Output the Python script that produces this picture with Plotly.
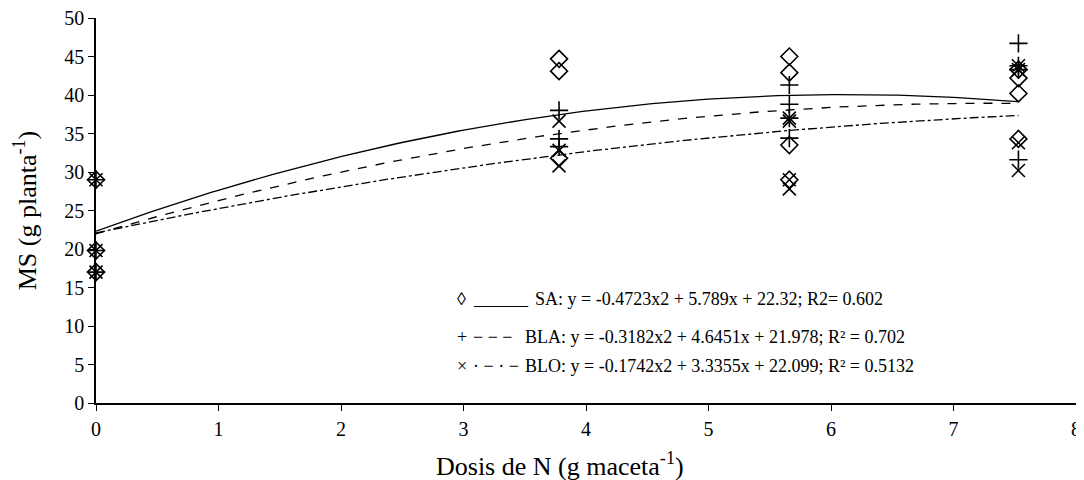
import numpy as np
import plotly.graph_objects as go

doses = [0, 3.78, 5.66, 7.53]

# observed points (per dose, replicate values)
sa_x = [0, 0, 0, 3.78, 3.78, 3.78, 5.66, 5.66, 5.66, 5.66, 7.53, 7.53, 7.53, 7.53]
sa_y = [29.0, 19.8, 17.0, 44.7, 43.1, 31.8, 45.0, 42.9, 33.5, 29.0, 43.3, 42.2, 40.2, 34.3]
bla_x = [0, 0, 0, 3.78, 3.78, 3.78, 5.66, 5.66, 5.66, 5.66, 7.53, 7.53, 7.53, 7.53]
bla_y = [29.0, 19.8, 17.0, 38.0, 34.3, 33.3, 41.3, 38.8, 37.0, 34.4, 46.7, 43.8, 43.3, 31.6]
blo_x = [0, 0, 0, 3.78, 3.78, 3.78, 5.66, 5.66, 5.66, 5.66, 7.53, 7.53, 7.53, 7.53]
blo_y = [29.0, 19.8, 17.0, 36.6, 32.8, 30.8, 37.0, 36.6, 29.0, 27.8, 43.8, 43.3, 33.8, 30.2]

# regression coefficients (a, b, c) for y = a x^2 + b x + c
sa_coef = [-0.4723, 5.789, 22.32]
bla_coef = [-0.3182, 4.6451, 21.978]
blo_coef = [-0.1742, 3.3355, 22.099]

legend_symbols = ["◊", "+", "×"]
legend_styles = ["______", "− − −", "· − · −"]
legend_texts = [
    "SA: y = -0.4723x2 + 5.789x + 22.32; R2= 0.602",
    "BLA: y = -0.3182x2 + 4.6451x + 21.978; R² = 0.702",
    "BLO: y = -0.1742x2 + 3.3355x + 22.099; R² = 0.5132",
]
x_title = "Dosis de N (g maceta<sup>-1</sup>)"
y_title = "MS (g planta<sup>-1</sup>)"

xs = np.linspace(0, 7.53, 200)

def curve(c):
    return c[0] * xs ** 2 + c[1] * xs + c[2]

fig = go.Figure()
for c, dash in [(sa_coef, "solid"), (bla_coef, "dash"), (blo_coef, "dashdot")]:
    fig.add_trace(go.Scatter(x=xs, y=curve(c), mode="lines",
                             line=dict(color="black", width=1.3, dash=dash),
                             showlegend=False, hoverinfo="skip"))

for xv, yv, sym in [(sa_x, sa_y, "diamond-open"), (bla_x, bla_y, "cross-thin-open"),
                    (blo_x, blo_y, "x-thin-open")]:
    fig.add_trace(go.Scatter(x=xv, y=yv, mode="markers", cliponaxis=False,
                             marker=dict(symbol=sym, size=13, color="black",
                                         line=dict(color="black", width=1.6)),
                             showlegend=False))

font = "Times New Roman"
rows_y = [13.5, 8.57, 4.8]
text_x = [3.567, 3.486, 3.486]
for sym, sty, t, yv, tx in zip(legend_symbols, legend_styles, legend_texts, rows_y, text_x):
    fig.add_annotation(x=2.93, y=yv, xref="x", yref="y", text=sym, showarrow=False,
                       xanchor="left", yanchor="middle",
                       font=dict(family=font, size=18, color="black"))
    fig.add_annotation(x=3.06, y=yv, xref="x", yref="y", text=sty, showarrow=False,
                       xanchor="left", yanchor="middle",
                       font=dict(family=font, size=18, color="black"))
    fig.add_annotation(x=tx, y=yv, xref="x", yref="y", text=t, showarrow=False,
                       xanchor="left", yanchor="middle",
                       font=dict(family=font, size=18, color="black"))

fig.add_annotation(x=0.4735, y=-0.161, xref="paper", yref="paper", text=x_title,
                   showarrow=False, xanchor="center", yanchor="middle",
                   font=dict(family=font, size=26, color="black"))

fig.update_layout(
    width=1076, height=472,
    margin=dict(l=88, r=8, t=10, b=77),
    paper_bgcolor="white", plot_bgcolor="white",
    font=dict(family=font, size=20, color="black"),
)
fig.update_xaxes(range=[0, 8], tickvals=list(range(9)), showgrid=False, zeroline=False,
                 showline=True, linecolor="black", linewidth=1.5, automargin=False,
                 ticks="outside", ticklen=6, tickcolor="black", ticklabeloverflow="allow",
                 ticklabelstandoff=1)
fig.update_yaxes(range=[0, 50], tickvals=list(range(0, 51, 5)), showgrid=False, zeroline=False,
                 showline=True, linecolor="black", linewidth=1.5, automargin=False,
                 ticks="outside", ticklen=6, tickcolor="black", ticklabeloverflow="allow",
                 title=dict(text=y_title, standoff=20,
                            font=dict(family=font, size=26)))

fig.write_html("out.html")
